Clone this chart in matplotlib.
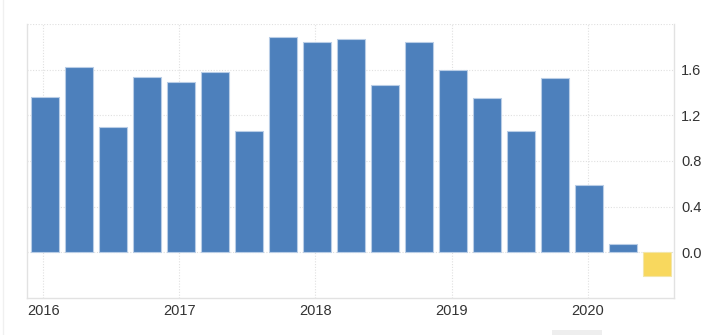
import numpy as np
import matplotlib.pyplot as plt
from matplotlib.lines import Line2D
from matplotlib.patches import Rectangle

plt.rcParams['font.family'] = ['Liberation Sans', 'DejaVu Sans']

# quarterly values 2016 Q1 .. 2020 Q3
quarters = ['2016Q1', '2016Q2', '2016Q3', '2016Q4', '2017Q1', '2017Q2', '2017Q3', '2017Q4',
            '2018Q1', '2018Q2', '2018Q3', '2018Q4', '2019Q1', '2019Q2', '2019Q3', '2019Q4',
            '2020Q1', '2020Q2', '2020Q3']
values = [1.36, 1.62, 1.10, 1.54, 1.49, 1.58, 1.06, 1.89, 1.84, 1.87, 1.47, 1.84,
          1.60, 1.35, 1.06, 1.53, 0.59, 0.07, -0.21]
forecast = [False] * 18 + [True]
year_labels = ['2016', '2017', '2018', '2019', '2020']
y_ticks = [0.0, 0.4, 0.8, 1.2, 1.6]

blue = '#4d80bc'
yellow = '#f8d85e'
text_col = '#333333'
grid_col = '#e0e0e0'

fig = plt.figure(figsize=(7.28, 3.35), dpi=100)
ax = fig.add_axes([27 / 728, 37 / 335, 647 / 728, 274 / 335])

x = np.arange(len(values))
colors = [yellow if f else blue for f in forecast]
edges = ['#f3e6a8' if f else '#b9cde6' for f in forecast]
ax.bar(x, values, width=0.82, color=colors, edgecolor=edges, linewidth=0.8, zorder=3)

# year gridlines at each Q1
year_pos = x[::4] - 0.05
ax.set_xticks(year_pos)
ax.set_xticklabels(year_labels)
ax.set_xlim(-0.53, 18.49)

ax.set_ylim(-0.4, 2.0)
ax.set_yticks(y_ticks)
ax.set_yticklabels(['%.1f' % v for v in y_ticks])
ax.yaxis.tick_right()

for v in [0.0, 0.4, 0.8, 1.2, 1.6, 2.0]:
    ax.axhline(v, color=grid_col, linewidth=0.8, linestyle=(0, (1, 1.5)), zorder=0)
for p in year_pos:
    ax.axvline(p, color=grid_col, linewidth=0.8, linestyle=(0, (1, 1.5)), zorder=0)

ax.tick_params(axis='both', length=0, labelsize=10.5, labelcolor=text_col)
ax.tick_params(axis='x', pad=4)
ax.tick_params(axis='y', pad=5)

for s in ['left', 'bottom', 'right']:
    ax.spines[s].set_color('#e2e2e2')
    ax.spines[s].set_linewidth(1)
ax.spines['top'].set_visible(False)

# page decorations: faint left border and scrollbar stub
fig.add_artist(Line2D([2.5 / 728, 2.5 / 728], [0, 1], color='#f0f0f0', linewidth=1))
fig.add_artist(Rectangle((552 / 728, 0), 50 / 728, 5 / 335, color='#eeeeee', linewidth=0))

fig.savefig('out.png', dpi=100)
